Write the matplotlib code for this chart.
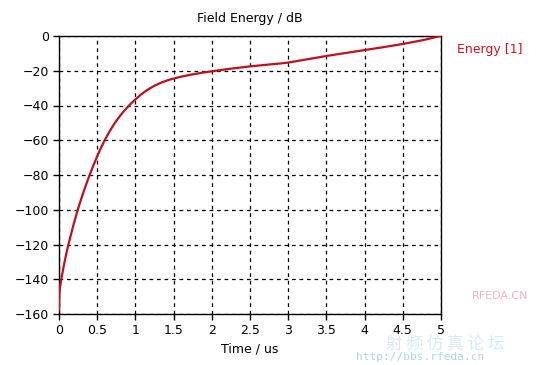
import matplotlib
matplotlib.use("Agg")
import matplotlib.pyplot as plt

time_us = [0, 0.003, 0.012, 0.03, 0.055, 0.08, 0.11, 0.144, 0.19, 0.24, 0.28, 0.32,
           0.36, 0.40, 0.45, 0.50, 0.55, 0.60, 0.66, 0.73, 0.80, 0.86, 0.93, 1.0,
           1.07, 1.15, 1.25, 1.34, 1.42, 1.5, 1.6, 1.71, 1.85, 2.0, 2.25, 2.5,
           2.75, 2.9, 3.0, 3.25, 3.5, 3.75, 4.0, 4.25, 4.5, 4.75, 5.0]
energy_db = [-158, -150, -145, -140, -134, -128.5, -122.5, -116.4, -108.6, -100.9, -95.2, -89.9,
             -84.9, -80.1, -74.5, -69.2, -64.3, -59.8, -55.0, -50.1, -45.9, -42.7, -39.4, -36.5,
             -33.8, -31.2, -28.6, -26.8, -25.5, -24.5, -23.4, -22.4, -21.3, -20.3, -18.8, -17.5,
             -16.4, -15.8, -15.3, -13.4, -11.5, -9.8, -8.1, -6.4, -4.6, -2.5, 0]
x_ticks = [0, 0.5, 1, 1.5, 2, 2.5, 3, 3.5, 4, 4.5, 5]
x_tick_labels = ["0", "0.5", "1", "1.5", "2", "2.5", "3", "3.5", "4", "4.5", "5"]
y_ticks = [0, -20, -40, -60, -80, -100, -120, -140, -160]
series_name = "Energy [1]"

plt.rcParams['font.family'] = ['DejaVu Sans', 'Noto Sans CJK SC']

fig = plt.figure(figsize=(5.58, 3.65), dpi=100)
ax = fig.add_axes([59/558, 51/365, 382/558, 278/365])

line_color = '#c0101e'
ax.plot(time_us, energy_db, color=line_color, lw=1.6, zorder=3,
        solid_joinstyle='round')

ax.set_xlim(0, 5)
ax.set_ylim(-160, 0)
ax.set_xticks(x_ticks)
ax.set_xticklabels(x_tick_labels)
ax.set_yticks(y_ticks)
ax.grid(True, color='black', linestyle=(0, (3, 3)), linewidth=0.9)
ax.tick_params(direction='out', length=4, width=1, labelsize=9, colors='black', pad=3)
for s in ax.spines.values():
    s.set_linewidth(1)
    s.set_color('black')

ax.set_title("Field Energy / dB", fontsize=9, pad=10)
ax.set_xlabel("Time / us", fontsize=9, labelpad=4)

fig.text(457/558, 1 - 50/365, series_name, color='#d01020', fontsize=9,
         ha='left', va='center')

# faint watermark
fig.text(500/558, 1 - 296/365, "RFEDA.CN", color='#e8a0b0', fontsize=8,
         ha='center', va='center', alpha=0.8)
fig.text(445/558, 1 - 344/365, "射 频 仿 真 论 坛", color='#c4e2f2', fontsize=12,
         ha='center', va='center', alpha=0.7, family=['Noto Sans CJK SC', 'DejaVu Sans'])
fig.text(420/558, 1 - 357/365, "http://bbs.rfeda.cn", color='#a8d0e8', fontsize=8,
         ha='center', va='center', alpha=0.9, family='DejaVu Sans Mono')

fig.savefig("out.png", dpi=100)
